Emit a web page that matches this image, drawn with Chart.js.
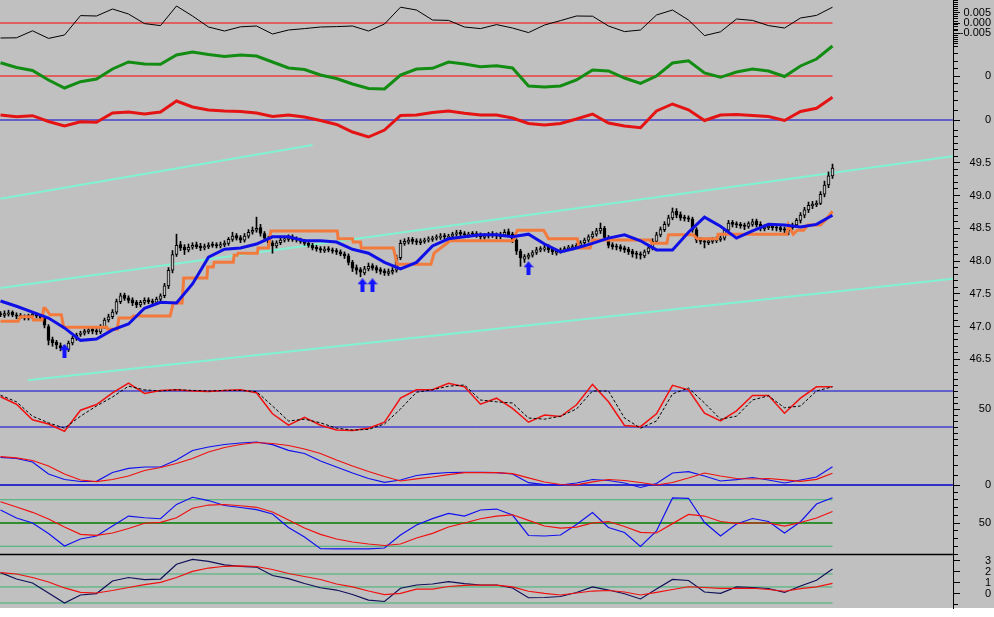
<!DOCTYPE html>
<html>
<head>
<meta charset="utf-8">
<script src="https://cdn.jsdelivr.net/npm/chart.js@4.4.1/dist/chart.umd.min.js"></script>
<style>
  html, body { margin: 0; padding: 0; background: #fff; }
</style>
</head>
<body>
<canvas id="chart" width="994" height="617"></canvas>
<script>
// ---- price bars (one per bar index) ----
const opens = [47.20,47.17,47.19,47.22,47.18,47.17,47.15,47.13,47.16,47.19,
  47.16,47.13,47.00,46.80,46.76,46.71,46.69,46.65,46.75,46.82,
  46.88,46.90,46.92,46.96,46.94,46.92,47.00,47.10,47.15,47.22,
  47.38,47.48,47.44,47.41,47.37,47.33,47.37,47.41,47.39,47.37,
  47.42,47.47,47.62,47.86,48.10,48.25,48.21,48.17,48.21,48.25,
  48.23,48.20,48.22,48.25,48.25,48.23,48.25,48.27,48.33,48.39,
  48.36,48.32,48.38,48.44,48.47,48.51,48.42,48.35,48.28,48.23,
  48.28,48.32,48.33,48.36,48.34,48.32,48.30,48.27,48.24,48.21,
  48.19,48.16,48.19,48.17,48.16,48.14,48.11,48.08,47.98,47.90,
  47.87,47.82,47.88,47.93,47.90,47.87,47.85,47.81,47.83,47.86,
  48.05,48.27,48.29,48.33,48.31,48.28,48.30,48.32,48.33,48.35,
  48.36,48.39,48.36,48.38,48.41,48.44,48.42,48.39,48.42,48.42,
  48.40,48.36,48.38,48.42,48.40,48.37,48.40,48.45,48.41,48.32,
  48.15,48.03,48.06,48.09,48.13,48.17,48.18,48.21,48.18,48.12,
  48.15,48.17,48.19,48.20,48.22,48.24,48.28,48.32,48.37,48.41,
  48.46,48.50,48.36,48.25,48.23,48.22,48.20,48.18,48.15,48.12,
  48.11,48.08,48.14,48.20,48.30,48.40,48.48,48.56,48.66,48.76,
  48.71,48.67,48.66,48.64,48.48,48.33,48.31,48.28,48.30,48.31,
  48.33,48.35,48.47,48.59,48.57,48.56,48.55,48.53,48.56,48.61,
  48.56,48.49,48.51,48.54,48.52,48.51,48.49,48.46,48.51,48.55,
  48.62,48.70,48.78,48.84,48.86,48.88,49.02,49.16,49.30];
const highs = [47.23,47.24,47.25,47.24,47.21,47.20,47.18,47.19,47.22,47.21,
  47.18,47.15,47.03,46.84,46.79,46.75,46.71,46.78,46.85,46.90,
  46.93,46.96,46.99,46.99,46.97,47.03,47.13,47.19,47.26,47.42,
  47.51,47.51,47.47,47.44,47.40,47.40,47.44,47.44,47.42,47.45,
  47.50,47.66,47.90,48.16,48.41,48.30,48.25,48.26,48.28,48.29,
  48.27,48.26,48.28,48.29,48.28,48.29,48.31,48.36,48.44,48.42,
  48.39,48.42,48.48,48.52,48.67,48.56,48.45,48.38,48.31,48.31,
  48.36,48.37,48.40,48.40,48.37,48.35,48.33,48.30,48.27,48.24,
  48.22,48.22,48.22,48.20,48.19,48.17,48.14,48.11,48.01,47.94,
  47.90,47.92,47.97,47.96,47.93,47.90,47.88,47.88,47.90,48.09,
  48.32,48.34,48.36,48.36,48.34,48.34,48.35,48.37,48.38,48.40,
  48.42,48.42,48.41,48.44,48.47,48.47,48.45,48.44,48.45,48.45,
  48.43,48.42,48.44,48.45,48.43,48.44,48.48,48.49,48.44,48.34,
  48.18,48.10,48.12,48.16,48.21,48.22,48.24,48.25,48.21,48.18,
  48.20,48.22,48.24,48.25,48.27,48.31,48.35,48.40,48.45,48.50,
  48.58,48.53,48.39,48.28,48.26,48.25,48.23,48.21,48.18,48.15,
  48.14,48.17,48.23,48.34,48.44,48.52,48.60,48.70,48.81,48.80,
  48.75,48.70,48.69,48.67,48.51,48.36,48.34,48.35,48.36,48.37,
  48.38,48.50,48.62,48.62,48.60,48.59,48.58,48.60,48.64,48.64,
  48.60,48.55,48.56,48.57,48.55,48.54,48.52,48.54,48.58,48.65,
  48.74,48.82,48.90,48.91,48.92,49.06,49.22,49.36,49.48];
const lows = [47.15,47.14,47.16,47.15,47.12,47.12,47.10,47.10,47.13,47.13,
  47.10,46.98,46.72,46.70,46.66,46.63,46.56,46.62,46.72,46.79,
  46.85,46.87,46.89,46.89,46.88,46.89,46.97,47.07,47.12,47.19,
  47.35,47.40,47.36,47.32,47.29,47.30,47.34,47.35,47.33,47.34,
  47.39,47.44,47.58,47.82,48.07,48.16,48.10,48.14,48.18,48.19,
  48.16,48.17,48.19,48.21,48.20,48.20,48.22,48.24,48.30,48.32,
  48.28,48.29,48.35,48.41,48.44,48.38,48.30,48.22,48.12,48.20,
  48.25,48.29,48.30,48.30,48.29,48.27,48.24,48.21,48.17,48.15,
  48.13,48.13,48.14,48.12,48.10,48.08,48.04,47.94,47.84,47.80,
  47.76,47.79,47.85,47.86,47.82,47.80,47.78,47.78,47.80,47.83,
  48.02,48.24,48.26,48.26,48.25,48.25,48.27,48.29,48.30,48.32,
  48.33,48.34,48.33,48.35,48.38,48.38,48.37,48.36,48.38,48.36,
  48.33,48.33,48.35,48.36,48.34,48.34,48.37,48.37,48.28,48.10,
  47.92,47.98,48.03,48.06,48.10,48.14,48.15,48.13,48.10,48.09,
  48.12,48.14,48.16,48.17,48.19,48.21,48.25,48.29,48.34,48.38,
  48.42,48.32,48.20,48.18,48.17,48.15,48.13,48.10,48.06,48.04,
  48.03,48.05,48.11,48.17,48.27,48.37,48.45,48.53,48.63,48.66,
  48.62,48.61,48.60,48.44,48.28,48.26,48.20,48.25,48.27,48.28,
  48.30,48.32,48.44,48.52,48.51,48.50,48.48,48.50,48.53,48.52,
  48.46,48.46,48.48,48.47,48.46,48.45,48.42,48.40,48.48,48.52,
  48.58,48.66,48.74,48.80,48.83,48.86,48.98,49.12,49.26];
const closes = [47.18,47.20,47.21,47.18,47.16,47.15,47.13,47.17,47.19,47.16,
  47.13,47.02,46.79,46.75,46.72,46.68,46.64,46.75,46.82,46.87,
  46.90,46.93,46.95,46.93,46.92,47.00,47.10,47.15,47.22,47.38,
  47.47,47.43,47.40,47.36,47.33,47.37,47.40,47.38,47.37,47.42,
  47.47,47.62,47.86,48.10,48.24,48.20,48.17,48.21,48.24,48.22,
  48.20,48.22,48.24,48.24,48.23,48.25,48.27,48.33,48.38,48.35,
  48.32,48.38,48.44,48.47,48.50,48.42,48.35,48.28,48.23,48.28,
  48.32,48.34,48.35,48.33,48.32,48.30,48.27,48.24,48.20,48.19,
  48.17,48.18,48.17,48.15,48.14,48.11,48.08,47.98,47.89,47.86,
  47.83,47.88,47.92,47.89,47.86,47.84,47.82,47.84,47.86,48.05,
  48.27,48.30,48.32,48.30,48.29,48.31,48.32,48.34,48.35,48.37,
  48.38,48.37,48.38,48.41,48.43,48.41,48.40,48.41,48.41,48.39,
  48.37,48.39,48.41,48.39,48.38,48.41,48.44,48.40,48.32,48.15,
  48.05,48.07,48.09,48.13,48.17,48.19,48.20,48.17,48.14,48.15,
  48.17,48.19,48.21,48.22,48.24,48.28,48.32,48.37,48.41,48.46,
  48.50,48.36,48.24,48.22,48.21,48.19,48.17,48.14,48.11,48.10,
  48.09,48.14,48.20,48.30,48.40,48.48,48.56,48.66,48.75,48.70,
  48.66,48.65,48.64,48.48,48.32,48.30,48.29,48.31,48.32,48.33,
  48.35,48.47,48.58,48.56,48.55,48.54,48.53,48.57,48.60,48.55,
  48.50,48.52,48.53,48.51,48.50,48.48,48.47,48.51,48.55,48.62,
  48.70,48.78,48.85,48.87,48.88,49.02,49.16,49.30,49.42];

// ---- indicator lines (one value every 4 bars) ----
const movingAvg = [47.39,47.31,47.22,47.13,46.98,46.79,46.81,46.95,47.04,47.28,
  47.37,47.36,47.65,48.06,48.18,48.20,48.26,48.37,48.37,48.31,
  48.31,48.29,48.18,48.12,47.98,47.88,47.98,48.23,48.34,48.37,
  48.40,48.40,48.37,48.41,48.26,48.14,48.20,48.27,48.35,48.40,
  48.31,48.17,48.17,48.44,48.67,48.53,48.35,48.46,48.56,48.55,
  48.52,48.56,48.70];
const osc1 = [-0.0075,-0.0074,-0.0039,-0.0077,-0.006,0.0037,0.0035,0.007,0.0045,-0.0003,
  -0.0013,0.0085,0.0035,-0.002,-0.004,-0.0019,-0.0015,-0.0055,-0.0035,-0.0028,
  -0.002,-0.0018,-0.0015,-0.004,-0.0005,0.0079,0.0065,0.0015,0.0013,-0.002,
  -0.0028,-0.0008,-0.0025,-0.0048,-0.001,0.0012,0.0035,0.0034,-0.0015,-0.0043,
  -0.0035,0.004,0.0065,0.0015,-0.0063,-0.0044,0.002,0.0013,-0.0013,-0.0025,
  0.0025,0.0038,0.0079];
const momentum = [1.33,0.85,0.55,-0.4,-1.2,-0.57,-0.3,0.7,1.4,1.2,
  1.17,2.1,2.4,2.15,1.95,2.1,2.0,1.4,0.8,0.65,
  0.1,-0.25,-0.8,-1.25,-1.3,0.1,0.7,0.77,1.4,1.2,
  0.93,1.03,0.8,-1.0,-1.1,-1.0,-0.4,0.6,0.5,-0.2,
  -0.73,0,1.3,1.52,0.3,-0.13,0.4,0.7,0.5,-0.05,
  1.0,1.7,3.0];
const trendOsc = [0.5,0.33,0.43,-0.15,-0.6,-0.17,-0.23,0.7,0.8,0.6,
  0.8,1.9,1.3,1.0,0.9,0.85,0.7,0.35,0.5,0.3,
  -0.05,-0.45,-1.2,-1.7,-1.0,0.45,0.5,0.75,0.9,0.67,
  0.5,0.5,0.2,-0.35,-0.5,-0.35,0.1,0.6,-0.3,-0.6,
  -0.77,0.9,1.6,1.02,-0.05,0.5,0.55,0.45,0.35,-0.05,
  0.85,1.17,2.27];
const stochK = [70.5,58,32,25,13,48,57.5,77,93,76,
  81,82,80,79,81,82,77,42,23,36,
  23,15,14,18,28,68,82,82,93,87,
  58,68,51,28,40,37.5,57,91,62,22.5,
  20.5,42,89.5,82,43,30,47,72.5,72.5,43,
  68,87,87];
const stochD = [73,62,38,27,18,38,55,70,88,82,
  80,82,81,80,81,81,79,55,30,33,
  27,18,15,16,25,50,78,82,88,90,
  65,62,60,35,33,38,50,80,80,35,
  18,30,75,85,60,33,38,65,72,52,
  55,80,87];
const macdMain = [2.77,2.65,2.3,1.1,0.55,0.35,0.37,1.25,1.67,1.8,
  1.8,2.5,3.45,3.8,4.05,4.2,4.3,4.03,3.47,3.15,
  2.4,1.8,1.2,0.65,0.27,0.5,0.95,1.14,1.25,1.27,
  1.27,1.24,1.1,0.23,0.03,0,0.2,0.55,0.45,0.2,
  -0.25,0.15,1.2,1.33,0.9,0.4,0.53,0.75,0.5,0.2,
  0.5,0.8,1.83];
const macdSignal = [2.83,2.72,2.45,1.9,1.1,0.5,0.33,0.55,0.9,1.45,
  1.75,2.15,2.65,3.3,3.75,4.05,4.25,4.15,3.95,3.6,
  3.15,2.5,1.9,1.35,0.85,0.4,0.62,0.8,1.03,1.24,
  1.24,1.23,1.13,0.72,0.3,0.05,0.02,0.32,0.55,0.45,
  0.25,0,0.25,0.7,1.2,0.9,0.65,0.6,0.65,0.52,
  0.37,0.57,1.17];
const rsiFast = [66.8,56.5,50,36.5,20.3,29.4,33.2,46.1,59,56.8,
  55.5,74,83.2,79,72.6,70,67.2,61.6,44.2,32,
  16.8,16.5,16.5,16.5,17.7,34.5,47.4,55.7,62.5,59,
  66.8,68,60.3,33.9,33.2,34.5,48,63.5,44.2,37.7,
  19.7,39.7,82.3,81.9,50.6,33.2,48.7,55.8,51.9,37.1,
  51.7,74.5,82.6];
const rsiSlow = [77.5,70.6,63.8,55.2,44.8,35.4,34,37.1,42.9,49.7,
  50.9,56.7,69,73.2,73.9,72.3,70.3,64.2,53.9,43.5,
  35.4,29.4,25.5,22.9,21,22.9,30.6,36.7,44.8,50,
  55.5,59,60.6,53.4,46.1,43.5,44.8,50,51.9,45.5,
  38,37.1,49.2,61,59,51.9,49.6,50,50,46.1,
  50.6,56.5,64.8];
const lowOsc = [1.94,1.36,1.0,0.09,-0.82,-0.09,0.04,1.18,1.5,1.3,
  1.36,2.7,3.14,2.97,2.64,2.52,2.45,1.68,1.4,0.95,
  0.57,0.36,-0.05,-0.55,-0.68,0.52,0.82,0.91,1.12,0.94,
  0.82,0.82,0.55,-0.34,-0.32,-0.23,0.14,0.64,0.36,0.02,
  -0.45,0.45,1.32,1.23,0.18,0.06,0.64,0.59,0.5,0.14,
  0.73,1.25,2.27];
const lowOscAvg = [1.94,1.82,1.5,1.09,0.55,0.15,0.09,0.32,0.59,0.85,
  1.05,1.5,2.05,2.36,2.52,2.55,2.5,2.23,1.86,1.59,
  1.32,0.91,0.64,0.27,-0.05,0.05,0.45,0.45,0.68,0.79,
  0.82,0.8,0.65,0.25,0.06,-0.09,0.09,0.27,0.32,0.18,
  -0.09,0.15,0.41,0.66,0.59,0.52,0.52,0.52,0.41,0.25,
  0.48,0.64,0.97];

// stepped stop line (bar index, price)
const stopX = [0,4.4,5,8,8.2,10.4,10.8,11.2,12.4,15.2,15.8,26.6,26.8,29.2,29.6,32.6,33.2,42.4,43.2,45.4,
  45.8,51.6,51.8,53.2,53.4,58.2,58.4,59.2,59.4,64.2,64.4,67,67.6,84.2,84.4,88,88.2,90,90.2,98.2,
  99.2,107.6,108.4,112.4,128.2,129.2,135.8,137,144.2,144.6,147.4,148,162.4,162.8,166.6,167,173.2,174.2,179.2,179.4,
  196.6,197,198.2,199.2,200.8,201.8,205,206.6,208];
const stopY = [47.08,47.08,47.15,47.15,47.10,47.10,47.28,47.28,47.18,47.18,46.99,46.99,46.96,46.96,47.13,47.13,47.16,47.16,47.36,47.36,
  47.74,47.74,47.91,47.91,47.98,47.98,48.09,48.09,48.12,48.12,48.20,48.20,48.46,48.46,48.34,48.34,48.29,48.29,48.20,48.20,
  47.95,47.95,48.12,48.31,48.31,48.47,48.47,48.34,48.34,48.20,48.20,48.32,48.32,48.27,48.27,48.40,48.40,48.34,48.34,48.41,
  48.41,48.55,48.41,48.47,48.47,48.55,48.55,48.65,48.76];

// trend channel lines (bar index, price)
const upperChannelX = [0, 238.1], upperChannelY = [47.59, 49.60];
const lowerChannelX = [6.8, 238.1], lowerChannelY = [46.18, 47.73];
const shortChannelX = [0, 78], shortChannelY = [48.95, 49.77];

// buy arrows
const arrowX = [16, 90.5, 93, 132];
const arrowY = [46.63, 47.63, 47.63, 47.89];

// indicator levels
const osc1Levels = [0], momentumLevels = [0], trendLevels = [0];
const stochLevels = [80, 20], macdLevels = [0];
const rsiLevels = [80, 20], rsiMid = [50];
const lowOscLevels = [1.82, 0.64, -0.82], lowOscTop = [3.6];

// right axis tick labels
const osc1Ticks = [0.005, 0, -0.005], osc1Labels = ['0.005', '0.000', '-0.005'];
const momentumTicks = [0], momentumLabels = ['0'];
const trendTicks = [0], trendLabels = ['0'];
const priceTicks = [49.5, 49.0, 48.5, 48.0, 47.5, 47.0, 46.5];
const priceLabels = ['49.5', '49.0', '48.5', '48.0', '47.5', '47.0', '46.5'];
const stochTicks = [50], stochLabels = ['50'];
const macdTicks = [0], macdLabels = ['0'];
const rsiTicks = [50], rsiLabels = ['50'];
const lowOscTicks = [3, 2, 1, 0], lowOscLabels = ['3', '2', '1', '0'];

const LAST = 208, EDGE = 238.1;
const barIdx = closes.map((_, i) => i);
const lineIdx = osc1.map((_, k) => k * 4);
const series = vals => vals.map((v, k) => ({ x: lineIdx[k], y: v }));
const pairs = (xs, ys) => xs.map((x, k) => ({ x, y: ys[k] }));

const BG = '#c0c0c0';
const TICK_LEN = 7;
const AXIS_W = 38;
const FONT_FAMILY = '"Liberation Sans", Arial, sans-serif';
const measureCtx = document.createElement('canvas').getContext('2d');
measureCtx.font = '11px ' + FONT_FAMILY;

function panelAxis(min, max, weight, step, tickVals, labels) {
  const widest = Math.max(...labels.map(t => measureCtx.measureText(t).width));
  const isLabelled = v => tickVals.some(t => Math.abs(t - v) < step / 10);
  return {
    type: 'linear', position: 'right', stack: 'right', stackWeight: weight,
    min, max, bounds: 'data', grace: 0,
    grid: {
      display: true, drawOnChartArea: false, drawTicks: true, tickLength: TICK_LEN, color: '#000',
      tickBorderDash: ctx => (ctx.tick && isLabelled(ctx.tick.value)) ? [] : [4, 30]
    },
    border: { display: true, color: '#000', width: 1 },
    ticks: {
      autoSkip: false, crossAlign: 'far', padding: AXIS_W - TICK_LEN - 2 - widest,
      color: '#000', font: { family: FONT_FAMILY, size: 11 },
      callback: v => {
        const k = tickVals.findIndex(t => Math.abs(t - v) < step / 10);
        return k >= 0 ? labels[k] : '';
      }
    },
    afterBuildTicks: scale => {
      const out = [];
      for (let k = Math.ceil(min / step - 1e-9); k * step <= max + 1e-9; k++) {
        out.push({ value: +(k * step).toFixed(6) });
      }
      scale.ticks = out;
    },
    // the label padding must not push the plot area in
    afterFit: scale => {
      scale.width = AXIS_W;
      scale.paddingTop = 0;
      scale.paddingBottom = 0;
      scale.paddingLeft = 0;
      scale.paddingRight = 0;
    }
  };
}

function line(axis, data, color, width, extra) {
  return Object.assign({
    type: 'line', yAxisID: axis, data, borderColor: color, borderWidth: width,
    pointRadius: 0, tension: 0, fill: false, order: 5, clip: false
  }, extra || {});
}

function levels(axis, vals, color, width, xEnd) {
  return vals.map(v => line(axis, [{ x: -0.2, y: v }, { x: xEnd, y: v }], color, width, { order: 9 }));
}

function arrowImage() {
  const c = document.createElement('canvas');
  c.width = 10; c.height = 14;
  const g = c.getContext('2d');
  g.fillStyle = '#1414ff';
  g.beginPath();
  g.moveTo(5, 0); g.lineTo(10, 6); g.lineTo(7, 6); g.lineTo(7, 14);
  g.lineTo(3, 14); g.lineTo(3, 6); g.lineTo(0, 6); g.closePath();
  g.fill();
  return c;
}

const background = {
  id: 'background',
  beforeDraw(chart) {
    const c = chart.ctx;
    c.save();
    c.fillStyle = '#fff';
    c.fillRect(0, 0, chart.width, chart.height);
    c.fillStyle = BG;
    c.fillRect(0, 0, chart.width, chart.chartArea.bottom);
    c.restore();
  }
};

const datasets = [
  ...levels('p1', osc1Levels, '#ff0000', 1, LAST),
  line('p1', series(osc1), '#000', 1),
  ...levels('p2', momentumLevels, '#ff0000', 1, LAST),
  line('p2', series(momentum), '#128c12', 3),
  ...levels('p3', trendLevels, '#0000d0', 1, EDGE),
  line('p3', series(trendOsc), '#e41414', 3),

  line('price', pairs(upperChannelX, upperChannelY), '#80f2d2', 2, { order: 10 }),
  line('price', pairs(lowerChannelX, lowerChannelY), '#80f2d2', 2, { order: 10 }),
  line('price', pairs(shortChannelX, shortChannelY), '#80f2d2', 2, { order: 10 }),
  {
    type: 'bar', yAxisID: 'price', order: 8, grouped: false, barThickness: 1,
    data: barIdx.map(i => ({ x: i, y: [lows[i], highs[i]] })),
    backgroundColor: '#000'
  },
  {
    type: 'bar', yAxisID: 'price', order: 7, grouped: false, barThickness: 3, minBarLength: 1,
    data: barIdx.map(i => ({ x: i, y: [opens[i], closes[i]] })),
    backgroundColor: barIdx.map(i => closes[i] >= opens[i] ? BG : '#000'),
    borderColor: '#000', borderWidth: 1, borderSkipped: false
  },
  line('price', pairs(stopX, stopY), '#f27a3c', 3, { order: 6 }),
  line('price', series(movingAvg), '#1010e6', 3, { order: 4 }),
  {
    type: 'line', yAxisID: 'price', order: 1, showLine: false, clip: false,
    data: pairs(arrowX, arrowY), pointStyle: arrowImage(), pointRadius: 7
  },

  ...levels('stoch', stochLevels, '#0000d0', 1, EDGE),
  line('stoch', series(stochD), '#000', 1, { borderDash: [3, 2] }),
  line('stoch', series(stochK), '#f01010', 1.5),

  ...levels('macd', macdLevels, '#0000d0', 1.5, EDGE),
  line('macd', series(macdSignal), '#f01010', 1.2),
  line('macd', series(macdMain), '#1010f0', 1.2),

  ...levels('rsi', rsiLevels, '#3cb371', 1, LAST),
  ...levels('rsi', rsiMid, '#008000', 1.5, LAST),
  line('rsi', series(rsiSlow), '#f01010', 1.2),
  line('rsi', series(rsiFast), '#1010f0', 1.2),

  ...levels('low', lowOscTop, '#000', 1.5, EDGE),
  ...levels('low', lowOscLevels, '#3cb371', 1, LAST),
  line('low', series(lowOscAvg), '#f01010', 1.2),
  line('low', series(lowOsc), '#10105a', 1.2)
];

new Chart(document.getElementById('chart'), {
  type: 'line',
  data: { datasets },
  plugins: [background],
  options: {
    responsive: false,
    devicePixelRatio: 1,
    animation: false,
    events: [],
    layout: { autoPadding: false, padding: { top: 0, left: 0, right: 3, bottom: 9 } },
    plugins: { legend: { display: false }, tooltip: { enabled: false } },
    scales: {
      x: {
        type: 'linear', display: false, offset: false, grid: { offset: false },
        min: -0.125, max: 238.125, bounds: 'data',
        afterFit: scale => { scale.paddingLeft = 0; scale.paddingRight = 0; }
      },
      p1: panelAxis(-0.0105, 0.0115, 44, 0.001, osc1Ticks, osc1Labels),
      p2: panelAxis(-2.2, 3.2, 54, 0.75, momentumTicks, momentumLabels),
      p3: panelAxis(-1.0, 2.2, 32, 1, trendTicks, trendLabels),
      price: panelAxis(46.2, 50.0, 249, 0.1, priceTicks, priceLabels),
      stoch: panelAxis(0, 100, 60, 10, stochTicks, stochLabels),
      macd: panelAxis(-0.5, 4.6, 51, 1, macdTicks, macdLabels),
      rsi: panelAxis(10, 92.6, 64, 10, rsiTicks, rsiLabels),
      low: panelAxis(-1.273, 3.636, 54, 1, lowOscTicks, lowOscLabels)
    }
  }
});
</script>
</body>
</html>
